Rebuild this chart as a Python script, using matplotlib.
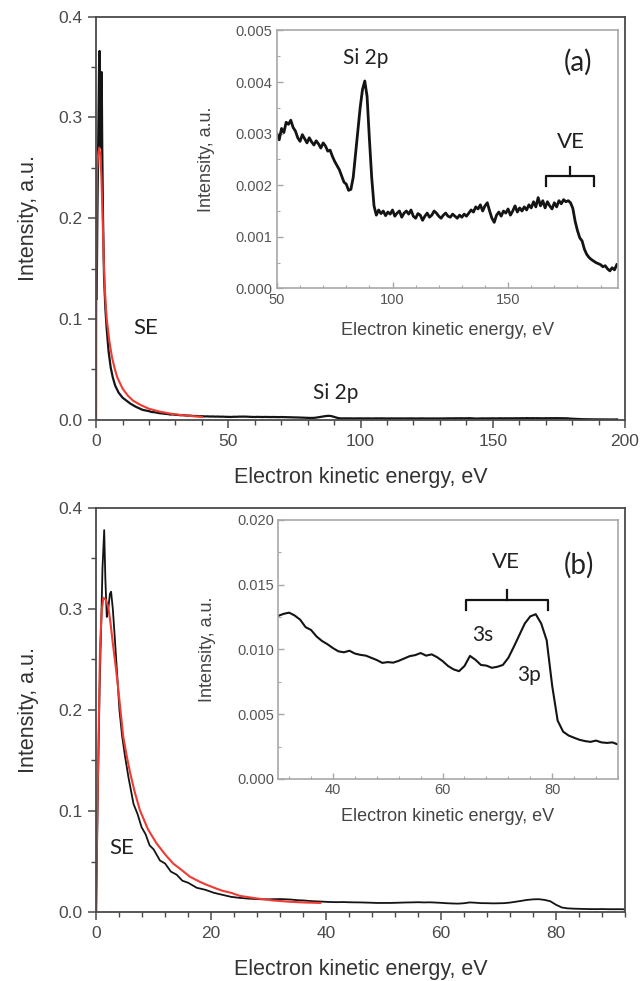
import matplotlib
matplotlib.use('Agg')
import matplotlib.pyplot as plt
from matplotlib.ticker import MultipleLocator, FormatStrFormatter

plt.rcParams['font.family'] = ['Liberation Sans', 'DejaVu Sans']

# ---- panel (a): low-energy part of the spectrum (black) ----
a_low_x = [0.2, 0.45, 0.7, 0.9, 1.1, 1.3, 1.5, 1.7, 1.9, 2.1, 2.3, 2.6, 3.0, 3.5, 4.0,
           4.7, 5.5, 6.3, 7.2, 8.5, 10, 11.5, 13, 15, 17.5,
           20, 21, 22, 23, 24, 25, 26, 27, 28, 29, 30, 31, 32, 33, 34, 35, 36, 37, 38, 39,
           40, 41, 42, 43, 44, 45, 46, 47, 48, 49]
a_low_y = [0.12, 0.20, 0.26, 0.31, 0.35, 0.366, 0.30, 0.27, 0.33, 0.345, 0.27, 0.20, 0.14, 0.11, 0.09,
           0.068, 0.052, 0.042, 0.034, 0.027, 0.022, 0.019, 0.016, 0.013, 0.010,
           0.0086, 0.0078, 0.0076, 0.0071, 0.0066, 0.0064, 0.0060, 0.0058, 0.0053, 0.0054,
           0.0050, 0.0049, 0.0046, 0.0047, 0.0043, 0.0042, 0.0041, 0.0038, 0.0039, 0.0036,
           0.0037, 0.0034, 0.0035, 0.0033, 0.0034, 0.0032, 0.0033, 0.0031, 0.0032, 0.0030]

# panel (a): 50-197 eV part (inset, also used in the main plot)
a_ins_x = list(range(50, 198))
a_ins_y = [0.00300, 0.00288, 0.00310, 0.00302, 0.00322, 0.00318, 0.00326, 0.00312, 0.00305, 0.00292,
           0.00285, 0.00298, 0.00290, 0.00282, 0.00292, 0.00284, 0.00278, 0.00286, 0.00280, 0.00272,
           0.00282, 0.00276, 0.00266, 0.00268, 0.00256, 0.00246, 0.00238, 0.00230, 0.00218, 0.00206,
           0.00202, 0.00190, 0.00192, 0.00215, 0.00260, 0.00305, 0.00350, 0.00385, 0.00402, 0.00372,
           0.00290, 0.00215, 0.00160, 0.00142, 0.00152, 0.00145, 0.00150, 0.00141, 0.00148, 0.00144,
           0.00152, 0.00140, 0.00146, 0.00150, 0.00138, 0.00146, 0.00150, 0.00144, 0.00152, 0.00140,
           0.00136, 0.00145, 0.00142, 0.00132, 0.00140, 0.00146, 0.00138, 0.00142, 0.00150, 0.00146,
           0.00140, 0.00136, 0.00142, 0.00146, 0.00140, 0.00138, 0.00144, 0.00140, 0.00136, 0.00142,
           0.00138, 0.00144, 0.00140, 0.00146, 0.00152, 0.00148, 0.00158, 0.00154, 0.00162, 0.00150,
           0.00160, 0.00166, 0.00150, 0.00136, 0.00128, 0.00142, 0.00148, 0.00140, 0.00150, 0.00146,
           0.00154, 0.00142, 0.00150, 0.00160, 0.00148, 0.00156, 0.00150, 0.00158, 0.00152, 0.00162,
           0.00156, 0.00168, 0.00158, 0.00176, 0.00160, 0.00170, 0.00156, 0.00168, 0.00160, 0.00154,
           0.00166, 0.00158, 0.00170, 0.00164, 0.00172, 0.00168, 0.00170, 0.00166, 0.00155, 0.00130,
           0.00112, 0.00098, 0.00092, 0.00076, 0.00066, 0.00060, 0.00056, 0.00053, 0.00050, 0.00048,
           0.00046, 0.00042, 0.00044, 0.00038, 0.00034, 0.00040, 0.00036, 0.00046]

# panel (a): fitted SE curve (red)
a_fit_x = [0, 0.05, 0.15, 0.3, 0.7, 1.2, 1.6, 2.0, 2.4, 2.8, 3.2, 3.6, 4.0, 5.0, 6.0, 7.0, 8.0,
           10, 12, 14, 17, 20, 24, 28, 32, 36, 40]
a_fit_y = [0, 0.1, 0.2, 0.245, 0.262, 0.270, 0.262, 0.240, 0.205, 0.165, 0.135, 0.115, 0.100,
           0.078, 0.062, 0.051, 0.042, 0.031, 0.024, 0.019, 0.0145, 0.011, 0.0082, 0.0062,
           0.0048, 0.0038, 0.0030]

# ---- panel (b) ----
b_low_x = [0, 0.3, 0.6, 0.9, 1.1, 1.4, 1.6, 1.85, 2.1, 2.4, 2.6, 2.9, 3.2, 3.6, 4.05, 4.5,
           5.0, 5.6, 6.0, 6.5, 7.2, 7.9, 8.6, 9.3, 10, 11.1, 12, 13, 14, 15, 16, 17.5, 19,
           20.5, 22, 23.5, 25, 26.7, 28, 29]
b_low_y = [0, 0.12, 0.22, 0.29, 0.34, 0.378, 0.33, 0.292, 0.30, 0.315, 0.317, 0.30, 0.275,
           0.24, 0.20, 0.175, 0.155, 0.134, 0.122, 0.107, 0.097, 0.084, 0.077, 0.066, 0.062,
           0.051, 0.048, 0.040, 0.037, 0.031, 0.029, 0.024, 0.022, 0.019, 0.017, 0.015, 0.014,
           0.0132, 0.0128, 0.0126]

b_ins_x = list(range(30, 93))
b_ins_y = [0.01259, 0.01275, 0.01284, 0.01262, 0.01230, 0.01172, 0.01150, 0.01100, 0.01065, 0.01040,
           0.01010, 0.00985, 0.00978, 0.00990, 0.00968, 0.00958, 0.00952, 0.00935, 0.00918, 0.00896,
           0.00902, 0.00898, 0.00912, 0.00930, 0.00948, 0.00956, 0.00972, 0.00952, 0.00962, 0.00940,
           0.00910, 0.00872, 0.00846, 0.00832, 0.00872, 0.00950, 0.00920, 0.00880, 0.00875, 0.00858,
           0.00866, 0.00880, 0.00935, 0.01020, 0.01110, 0.01200, 0.01255, 0.01272, 0.01200, 0.01070,
           0.00720, 0.00450, 0.00365, 0.00335, 0.00318, 0.00302, 0.00292, 0.00286, 0.00296, 0.00282,
           0.00278, 0.00282, 0.00266]

b_fit_x = [0, 0.15, 0.4, 0.69, 1.0, 1.27, 1.7, 2.1, 2.5, 2.9, 3.4, 3.86, 4.3, 4.7, 5.3, 5.9,
           6.7, 7.6, 9, 10.5, 12, 13.4, 15, 16.3, 18, 19.2, 21, 22, 23.5, 25, 27.9, 30.7,
           33.6, 36, 39]
b_fit_y = [0, 0.08, 0.167, 0.266, 0.300, 0.311, 0.309, 0.302, 0.286, 0.266, 0.243, 0.220,
           0.196, 0.174, 0.155, 0.138, 0.119, 0.101, 0.082, 0.068, 0.057, 0.048, 0.041, 0.035,
           0.030, 0.027, 0.023, 0.021, 0.019, 0.016, 0.0135, 0.0115, 0.0102, 0.0095, 0.0090]

# bracket extents [left, right, bar level, end level, top of centre tick]
ve_a = [166.5, 187.0, 0.00217, 0.00198, 0.00235]
ve_b = [64.2, 79.3, 0.01382, 0.01305, 0.01459]

BLACK = '#141414'
RED = '#f03a32'
ANN = 'Lato'


def style_main(ax, xmajor, xminor):
    for s in ax.spines.values():
        s.set_color('#4a4a4a')
        s.set_linewidth(1.3)
    ax.tick_params(which='both', direction='out', top=False, right=False,
                   colors='#4a4a4a', labelcolor='#4a4a4a', labelsize=12.5)
    ax.tick_params(which='major', length=6, width=1.1, pad=4)
    ax.tick_params(which='minor', length=3.5, width=1.0)
    ax.xaxis.set_major_locator(MultipleLocator(xmajor))
    ax.xaxis.set_minor_locator(MultipleLocator(xminor))
    ax.yaxis.set_major_locator(MultipleLocator(0.1))
    ax.yaxis.set_minor_locator(MultipleLocator(0.05))
    ax.yaxis.set_major_formatter(FormatStrFormatter('%.1f'))
    ax.set_ylabel('Intensity, a.u.', fontsize=15.5, color='#333333', labelpad=14)
    ax.set_xlabel('Electron kinetic energy, eV', fontsize=15.5, color='#333333', labelpad=13)


def style_inset(ax, xmajor, xminor, ymajor, yminor, xpad):
    for s in ax.spines.values():
        s.set_color('#a8a8a8')
        s.set_linewidth(1.2)
    ax.tick_params(which='both', direction='in', top=False, right=False,
                   colors='#a8a8a8', labelcolor='#555555', labelsize=10.5)
    ax.tick_params(which='major', length=4, width=1.0, pad=3)
    ax.tick_params(which='minor', length=2.5, width=0.8)
    ax.xaxis.set_major_locator(MultipleLocator(xmajor))
    ax.xaxis.set_minor_locator(MultipleLocator(xminor))
    ax.yaxis.set_major_locator(MultipleLocator(ymajor))
    ax.yaxis.set_minor_locator(MultipleLocator(yminor))
    ax.yaxis.set_major_formatter(FormatStrFormatter('%.3f'))
    ax.set_ylabel('Intensity, a.u.', fontsize=13, color='#444444', labelpad=15)
    ax.set_xlabel('Electron kinetic energy, eV', fontsize=13, color='#444444', labelpad=xpad)


def bracket(ax, b):
    xl, xr, yb, ye, yt = b
    xc = (xl + xr) / 2
    ax.plot([xl, xl, xr, xr], [ye, yb, yb, ye], color=BLACK, lw=1.6)
    ax.plot([xc, xc], [yb, yt], color=BLACK, lw=1.6)


fig = plt.figure(figsize=(6.41, 9.81), dpi=100)

# ---------- (a) ----------
ax1 = fig.add_axes([0.150, 0.572, 0.825, 0.411])
ax1.plot(a_low_x + a_ins_x, a_low_y + a_ins_y, color=BLACK, lw=1.6)
ax1.plot(a_fit_x, a_fit_y, color=RED, lw=1.5)
ax1.set_xlim(0, 200)
ax1.set_ylim(0, 0.4)
style_main(ax1, 50, 10)
ax1.text(18.6, 0.091, 'SE', family=ANN, fontsize=16, ha='center', va='center', color='#222222')
ax1.text(90.5, 0.027, 'Si 2p', family=ANN, fontsize=15, ha='center', va='center', color='#222222')

in1 = fig.add_axes([0.432, 0.706, 0.532, 0.263])
in1.plot(a_ins_x, a_ins_y, color=BLACK, lw=2.0)
in1.set_xlim(50, 197.5)
in1.set_ylim(0, 0.005)
style_inset(in1, 50, 10, 0.001, 0.0005, 11)
in1.text(88.3, 0.00446, 'Si 2p', family=ANN, fontsize=15, ha='center', va='center', color='#222222')
in1.text(180.4, 0.00438, '(a)', family=ANN, fontsize=20, ha='center', va='center', color='#222222')
in1.text(177.0, 0.00283, 'VE', family=ANN, fontsize=16, ha='center', va='center', color='#222222')
bracket(in1, ve_a)

# ---------- (b) ----------
ax2 = fig.add_axes([0.150, 0.0703, 0.825, 0.412])
ax2.plot(b_low_x + b_ins_x, b_low_y + b_ins_y, color=BLACK, lw=1.3)
ax2.plot(b_fit_x, b_fit_y, color=RED, lw=1.5)
ax2.set_xlim(0, 92)
ax2.set_ylim(0, 0.4)
style_main(ax2, 20, 4)
ax2.text(4.5, 0.063, 'SE', family=ANN, fontsize=16, ha='center', va='center', color='#222222')

in2 = fig.add_axes([0.434, 0.206, 0.530, 0.264])
in2.plot(b_ins_x, b_ins_y, color=BLACK, lw=1.5)
in2.set_xlim(30, 92)
in2.set_ylim(0, 0.02)
style_inset(in2, 20, 4, 0.005, 0.0025, 8)
in2.text(71.6, 0.01676, 'VE', family=ANN, fontsize=16, ha='center', va='center', color='#222222')
in2.text(84.8, 0.01653, '(b)', family=ANN, fontsize=20, ha='center', va='center', color='#222222')
in2.text(67.4, 0.01112, '3s', family=ANN, fontsize=15, ha='center', va='center', color='#222222')
in2.text(75.8, 0.00803, '3p', family=ANN, fontsize=15, ha='center', va='center', color='#222222')
bracket(in2, ve_b)

fig.savefig('out.png', dpi=100)
